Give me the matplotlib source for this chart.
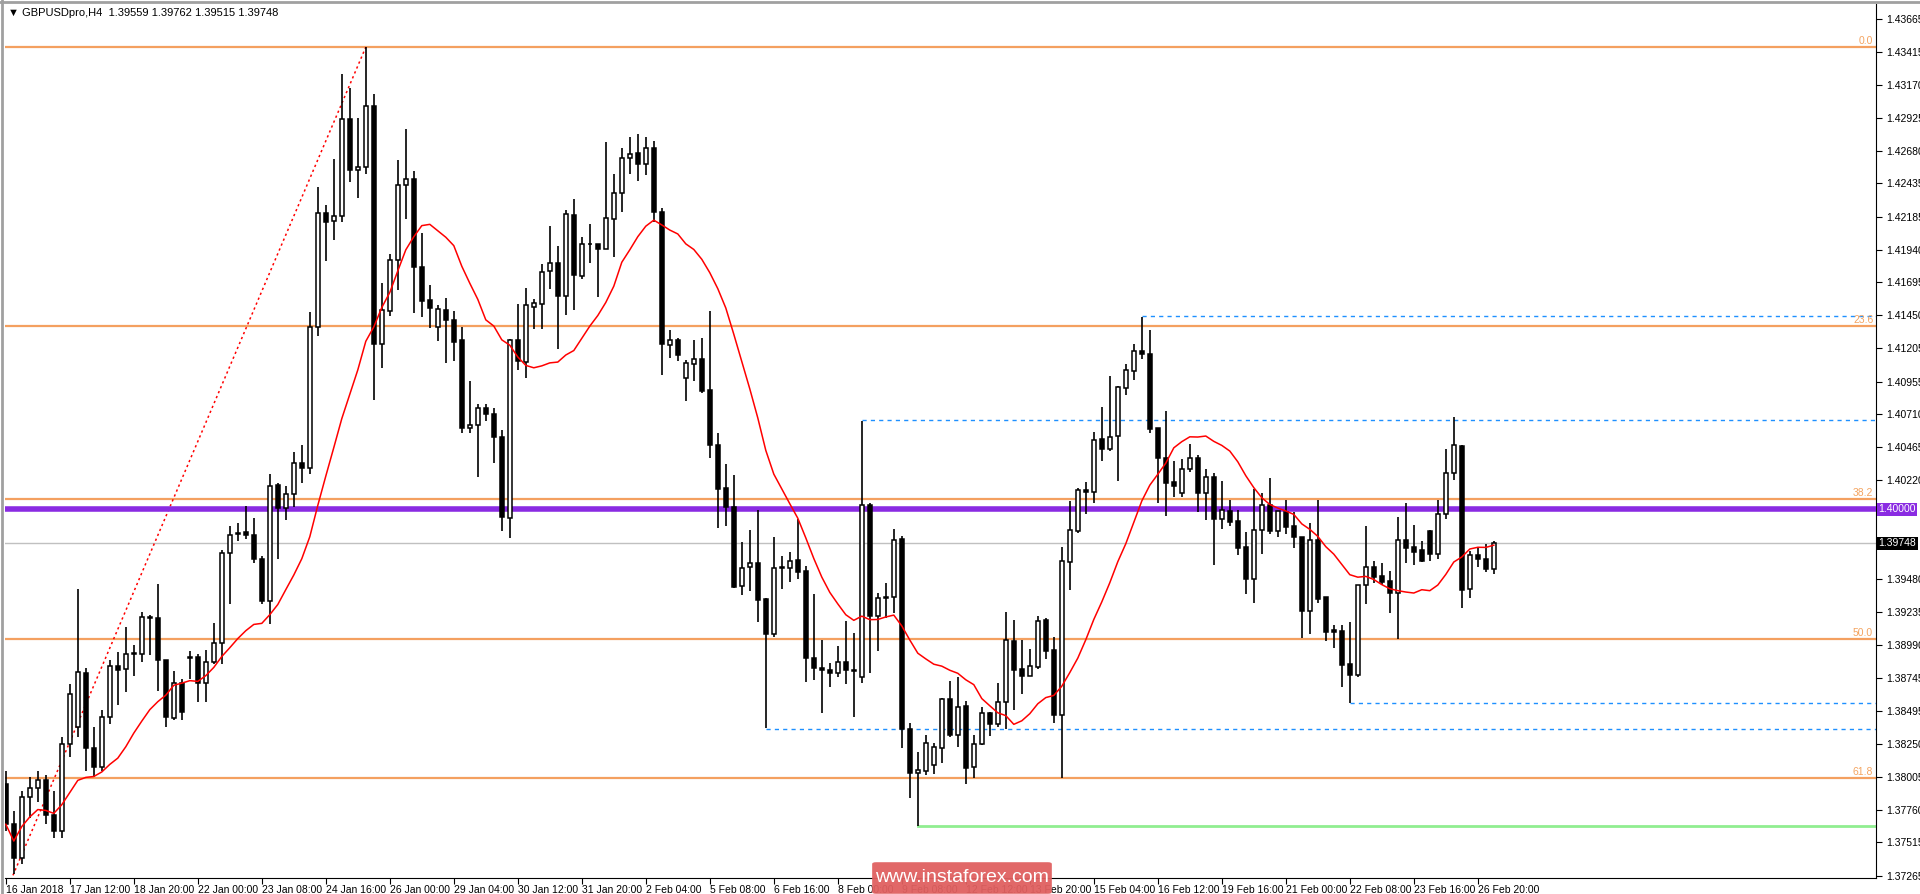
import matplotlib
matplotlib.use("Agg")
import matplotlib.pyplot as plt
from matplotlib.patches import FancyBboxPatch
import numpy as np
import pandas as pd

plt.rcParams['font.family'] = ['Liberation Sans', 'DejaVu Sans']

symbol_info = "GBPUSDpro,H4  1.39559 1.39762 1.39515 1.39748"

# OHLC per H4 bar
ohlc = [
(1.3795,1.3805,1.3760,1.3765),(1.3765,1.3775,1.3728,1.3740),(1.3740,1.3790,1.3735,1.3785),(1.3785,1.3800,1.3770,1.3792),
(1.3792,1.3805,1.3782,1.3798),(1.3798,1.3802,1.3765,1.3772),(1.3772,1.3790,1.3755,1.3760),(1.3760,1.3830,1.3755,1.3825),
(1.3825,1.3870,1.3815,1.3862),(1.3838,1.3941,1.3830,1.3879),(1.3878,1.3882,1.3805,1.3822),(1.3822,1.3838,1.3800,1.3808),
(1.3808,1.3850,1.3805,1.3845),(1.3845,1.3888,1.3840,1.3883),(1.3883,1.38937,1.3854,1.3880),(1.38807,1.39124,1.38634,1.38924),
(1.38924,1.38987,1.38754,1.38928),(1.38921,1.39234,1.38864,1.39194),(1.3919,1.3921,1.38914,1.3920),(1.39187,1.39443,1.38644,1.38874),
(1.38874,1.3888,1.38375,1.38448),(1.38441,1.38798,1.3843,1.38708),(1.38708,1.38731,1.38431,1.38488),(1.3889,1.38941,1.38731,1.3890),
(1.38897,1.3892,1.38565,1.38708),(1.38708,1.38954,1.38565,1.38864),(1.38861,1.39154,1.38847,1.39001),(1.39001,1.39697,1.38847,1.39673),
(1.39673,1.3988,1.39297,1.39813),(1.39818,1.39896,1.39763,1.39823),(1.39830,1.40026,1.3978,1.39806),(1.39806,1.39936,1.39597,1.3963),
(1.3963,1.39653,1.39297,1.39314),(1.39314,1.40263,1.39147,1.40173),(1.4018,1.40196,1.3963,1.40013),(1.40013,1.40173,1.39923,1.40113),
(1.40113,1.40429,1.40020,1.40346),(1.40346,1.40479,1.40196,1.40313),(1.40313,1.41471,1.40263,1.41362),(1.41362,1.4241,1.41295,1.42217),
(1.42216,1.42271,1.41855,1.42146),(1.42156,1.42619,1.42014,1.42193),(1.42188,1.4325,1.42146,1.42917),(1.42917,1.4315,1.42445,1.42532),
(1.42537,1.42925,1.42325,1.42557),(1.42557,1.43452,1.42507,1.4301),(1.4301,1.4310,1.40816,1.41238),(1.41238,1.41694,1.41057,1.41487),
(1.41482,1.41905,1.41442,1.41865),(1.41865,1.42611,1.41636,1.42425),(1.42425,1.42843,1.42166,1.4247),(1.4247,1.42524,1.41467,1.41811),
(1.41811,1.42067,1.41437,1.41557),(1.41562,1.41674,1.41358,1.41507),(1.41360,1.41524,1.41258,1.41500),(1.41492,1.41577,1.41094,1.41418),
(1.41418,1.41482,1.41109,1.41251),(1.41263,1.41363,1.40574,1.40609),(1.40612,1.40958,1.40572,1.40629),(1.40629,1.40786,1.40244,1.40754),
(1.40754,1.40786,1.40662,1.40716),(1.40716,1.40761,1.40348,1.40542),(1.40542,1.40597,1.3984,1.39945),(1.3994,1.41276,1.3979,1.41263),
(1.41268,1.41532,1.41045,1.41109),(1.41102,1.41656,1.40978,1.41525),(1.41512,1.41569,1.41350,1.41544),(1.41537,1.4183,1.4135,1.41773),
(1.41781,1.42114,1.41649,1.4184),(1.4184,1.41965,1.41201,1.41592),(1.41592,1.42233,1.41450,1.42208),(1.42201,1.4232,1.41492,1.41753),
(1.41741,1.42034,1.41724,1.41985),(1.41980,1.42129,1.41840,1.41985),(1.41980,1.41985,1.41587,1.41943),(1.41947,1.42745,1.41947,1.42179),
(1.42171,1.42507,1.41885,1.42363),(1.42363,1.42701,1.42221,1.42626),(1.42626,1.42780,1.42507,1.42656),(1.4266,1.4280,1.4245,1.4258),
(1.4258,1.4278,1.4250,1.4270),(1.4270,1.4275,1.4215,1.4222),(1.4222,1.4225,1.41007,1.41234),(1.41226,1.41338,1.41134,1.41268),
(1.41263,1.41283,1.41109,1.41156),(1.40985,1.41119,1.40811,1.41097),(1.41089,1.41263,1.40960,1.41127),(1.41127,1.41283,1.40870,1.40883),
(1.40890,1.4148,1.40385,1.40485),(1.40485,1.40574,1.39863,1.40154),(1.40159,1.40343,1.39878,1.40015),(1.40015,1.40261,1.39411,1.39423),
(1.39430,1.39754,1.39361,1.39567),(1.39572,1.39846,1.39393,1.39597),(1.39597,1.39995,1.39162,1.39324),(1.39329,1.39340,1.38366,1.39067),
(1.39067,1.39791,1.39045,1.39567),(1.39565,1.39652,1.39403,1.39570),(1.39562,1.39679,1.39460,1.39612),(1.39622,1.39928,1.39478,1.39535),
(1.39540,1.39577,1.38714,1.38893),(1.38888,1.39366,1.38727,1.38819),(1.38819,1.39025,1.38478,1.38801),(1.38801,1.38851,1.38677,1.38776),
(1.38781,1.38980,1.38747,1.38863),(1.38863,1.39167,1.38697,1.38801),(1.38801,1.39075,1.38448,1.38796),(1.38752,1.40662,1.38702,1.40037),
(1.40037,1.40045,1.38781,1.39204),(1.39207,1.39373,1.38946,1.39343),(1.39343,1.39455,1.39187,1.39348),(1.39348,1.39858,1.39229,1.39776),
(1.39777,1.39800,1.38217,1.38359),(1.38359,1.38404,1.37849,1.38036),(1.38036,1.38187,1.37640,1.38056),(1.38051,1.38317,1.38018,1.38255),
(1.38093,1.38260,1.38026,1.38225),(1.38222,1.38590,1.38105,1.38583),(1.38583,1.38720,1.38299,1.38317),(1.38317,1.38752,1.38230,1.38523),
(1.38533,1.38570,1.37951,1.38073),(1.38080,1.38317,1.37993,1.38250),(1.38250,1.38523,1.38242,1.38478),(1.38478,1.38491,1.38312,1.38399),
(1.38399,1.38707,1.38379,1.38560),(1.38560,1.39232,1.38359,1.39026),(1.39018,1.39175,1.38503,1.38802),(1.38809,1.39026,1.38623,1.38757),
(1.38759,1.38958,1.38759,1.38832),(1.38827,1.39205,1.38809,1.39167),(1.39175,1.39192,1.38884,1.38946),(1.38951,1.39050,1.38409,1.38466),
(1.38466,1.39722,1.37993,1.39615),(1.39610,1.40065,1.39398,1.39846),(1.39841,1.40162,1.39826,1.40144),(1.40144,1.40207,1.39970,1.40127),
(1.40127,1.40580,1.40050,1.40522),(1.40530,1.40766,1.40363,1.40448),(1.40448,1.40995,1.40435,1.40542),(1.40550,1.40920,1.40214,1.40915),
(1.40910,1.41084,1.40853,1.41040),(1.41035,1.41234,1.40965,1.41181),(1.41181,1.41438,1.41127,1.41164),(1.41164,1.41338,1.40572,1.40600),
(1.40605,1.40605,1.40045,1.40386),(1.40386,1.40734,1.39953,1.40199),(1.40204,1.40361,1.40095,1.40177),(1.40120,1.40376,1.40090,1.40306),
(1.40306,1.40488,1.40281,1.40388),(1.40388,1.40406,1.39983,1.40120),(1.40120,1.40306,1.39921,1.40239),(1.40239,1.40269,1.39585,1.39926),
(1.39926,1.40214,1.39858,1.39995),(1.39990,1.40070,1.39876,1.39908),(1.39913,1.39995,1.39659,1.39714),(1.39722,1.39834,1.39369,1.39481),
(1.39478,1.40152,1.39304,1.39846),(1.39846,1.40125,1.39667,1.40033),(1.40033,1.40237,1.39816,1.39841),(1.39841,1.39990,1.39796,1.39988),
(1.39983,1.40070,1.39816,1.39871),(1.39876,1.39983,1.39714,1.39796),(1.39796,1.39796,1.39043,1.39244),(1.39244,1.39896,1.39070,1.39776),
(1.39771,1.40070,1.39299,1.39331),(1.39344,1.39344,1.39020,1.39088),(1.39100,1.39137,1.38963,1.39088),(1.39093,1.39137,1.38677,1.38839),
(1.38846,1.39162,1.38553,1.38764),(1.38764,1.39436,1.38752,1.39436),(1.39436,1.39876,1.39294,1.39568),(1.39568,1.39615,1.39448,1.39498),
(1.39503,1.39597,1.39436,1.39461),(1.39466,1.39540,1.39229,1.39379),(1.39379,1.39946,1.39035,1.39776),(1.39776,1.40045,1.39602,1.39714),
(1.39717,1.39883,1.39585,1.39685),(1.39697,1.39764,1.39610,1.39615),(1.39838,1.39846,1.39615,1.39667),(1.39667,1.40070,1.39630,1.39963),
(1.39963,1.40448,1.39926,1.40276),(1.40276,1.40692,1.40219,1.40480),(1.40473,1.40480,1.39267,1.39398),(1.39403,1.39689,1.39341,1.39660),
(1.39660,1.39722,1.39573,1.39630),(1.39627,1.39742,1.39535,1.39553),(1.39559,1.39762,1.39515,1.39748),
]
opens = [r[0] for r in ohlc]
highs = [r[1] for r in ohlc]
lows = [r[2] for r in ohlc]
closes = [r[3] for r in ohlc]

date_labels = ["16 Jan 2018","17 Jan 12:00","18 Jan 20:00","22 Jan 00:00","23 Jan 08:00","24 Jan 16:00",
               "26 Jan 00:00","29 Jan 04:00","30 Jan 12:00","31 Jan 20:00","2 Feb 04:00","5 Feb 08:00",
               "6 Feb 16:00","8 Feb 00:00","9 Feb 08:00","12 Feb 12:00","13 Feb 20:00","15 Feb 04:00",
               "16 Feb 12:00","19 Feb 16:00","21 Feb 00:00","22 Feb 08:00","23 Feb 16:00","26 Feb 20:00"]
price_ticks = [1.43665,1.43415,1.43170,1.42925,1.42680,1.42435,1.42185,1.41940,1.41695,1.41450,1.41205,
               1.40955,1.40710,1.40465,1.40220,1.39480,1.39235,1.38990,1.38745,1.38495,1.38250,
               1.38005,1.37760,1.37515,1.37265]
fib_high, fib_low = 1.43452, 1.34620
fib_levels = [0.0, 23.6, 38.2, 50.0, 61.8]
fib_start_bar, fib_end_bar = -18, 45
level_1 = 1.40000
last_price = 1.39748
blue_levels = [(142, 1.41443), (107, 1.40667), (168, 1.38556), (95, 1.38362)]
green_level = (114, 1.37640)
ma_period = 15

W, H = 1920, 894
fig = plt.figure(figsize=(W/100, H/100), dpi=100)
left, right, top, bot = 5, 1876, 4.5, 877.6
ax = fig.add_axes([left/W, 1-bot/H, (right-left)/W, (bot-top)/H])
n = len(ohlc)
x = np.arange(n)
ax.set_xlim(-0.1, (right-left)/8 - 0.1)
ax.set_ylim(1.37252, 1.43770)

orange = "#F4A060"
for lv in fib_levels:
    p = fib_high - (fib_high - fib_low) * lv / 100
    ax.axhline(p, color=orange, lw=1.6, zorder=1)
    ax.text(0.9985, p + 0.00008, f"{lv:.1f}", transform=ax.get_yaxis_transform(), ha="right", va="bottom",
            color="#F4A460", fontsize=7.5, zorder=5)
ax.plot([fib_start_bar, fib_end_bar], [fib_low, fib_high], color="red", ls=(0, (1.5, 2)), lw=1.1, zorder=2)

ax.axhline(last_price, color="#C0C0C0", lw=1, zorder=1)
ax.axhline(level_1, color="#8A2BE2", lw=4, zorder=3)
xmax = ax.get_xlim()[1]
for b, p in blue_levels:
    ax.plot([b, xmax], [p, p], color="#1E90FF", ls=(0, (3, 3)), lw=1, zorder=2)
ax.plot([green_level[0], xmax], [green_level[1]]*2, color="#90EE90", lw=2, zorder=2)

o = np.array(opens); c = np.array(closes); h = np.array(highs); l = np.array(lows)
ax.vlines(x, l, h, color="black", lw=1.2, zorder=4)
up = c >= o
bw = 0.55
ax.bar(x[up], np.maximum(c[up]-o[up], 0.00003), bottom=o[up], width=bw, color="white", edgecolor="black", lw=1.1, zorder=5)
ax.bar(x[~up], np.maximum(o[~up]-c[~up], 0.00003), bottom=c[~up], width=bw, color="black", edgecolor="black", lw=1.1, zorder=5)

ma = pd.Series(closes).rolling(ma_period, min_periods=1).mean()
ax.plot(x, ma, color="red", lw=1.1, zorder=6)

for s in ["top", "left"]:
    ax.spines[s].set_visible(False)
ax.spines["right"].set_color("black"); ax.spines["bottom"].set_color("black")
ax.yaxis.tick_right()
ax.set_yticks(price_ticks)
ax.set_yticklabels([f"{p:.5f}" for p in price_ticks], fontsize=7.5)
ax.tick_params(axis="y", length=4, pad=3)
ax.set_xticks(np.arange(len(date_labels))*8)
ax.set_xticklabels(date_labels, fontsize=7.5, ha="left")
ax.tick_params(axis="x", length=4, pad=1)

ax.text(1.0012, level_1, "1.40000", transform=ax.get_yaxis_transform(), va="center", ha="left", fontsize=7.5,
        color="white", bbox=dict(boxstyle="square,pad=0.15", fc="#8A2BE2", ec="none"), zorder=10, clip_on=False)
ax.text(1.0012, last_price, f"{last_price:.5f}", transform=ax.get_yaxis_transform(), va="center", ha="left",
        fontsize=7.5, color="white", bbox=dict(boxstyle="square,pad=0.15", fc="black", ec="none"), zorder=10, clip_on=False)

fig.text(8/W, 1-13/H, "▼ " + symbol_info, fontsize=8, va="center", ha="left",
         family=['Liberation Sans', 'DejaVu Sans'])
fig.add_artist(plt.Line2D([0, 1], [1-1.5/H, 1-1.5/H], color="#A0A0A0", lw=2))
fig.add_artist(plt.Line2D([1.5/W, 1.5/W], [0, 1], color="#A0A0A0", lw=2))
fig.patches.append(FancyBboxPatch((876/W, 2/H), 172/W, 28/H, boxstyle="round,pad=0.002",
                                  transform=fig.transFigure, fc="#E06060", ec="none", alpha=0.95, zorder=20))
fig.text(962/W, 16/H, "www.instaforex.com", color="white", fontsize=14, ha="center", va="center", zorder=21)

fig.savefig("out.png", dpi=100)
